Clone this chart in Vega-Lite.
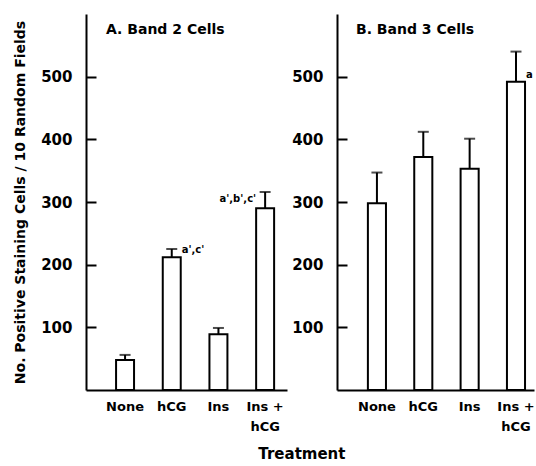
{
  "$schema": "https://vega.github.io/schema/vega-lite/v6.json",
  "padding": {"left": 13, "top": 14, "right": 0, "bottom": 5},
  "background": "white",
  "config": {
    "font": "DejaVu Sans",
    "view": {"stroke": null},
    "axis": {"grid": false, "domainColor": "black", "domainWidth": 2, "tickColor": "black", "tickWidth": 2, "labelColor": "black", "titleColor": "black", "labelFont": "DejaVu Sans", "titleFont": "DejaVu Sans", "labelFontWeight": "bold", "titleFontWeight": "bold"}
  },
  "datasets": {
    "d": [
      {"panel": "A", "treatment": "None", "value": 48, "upper": 56, "label": ""},
      {"panel": "A", "treatment": "hCG", "value": 212, "upper": 225, "label": "a',c'"},
      {"panel": "A", "treatment": "Ins", "value": 89, "upper": 99, "label": ""},
      {"panel": "A", "treatment": "Ins+hCG", "value": 290, "upper": 316, "label": "a',b',c'"},
      {"panel": "B", "treatment": "None", "value": 298, "upper": 347, "label": ""},
      {"panel": "B", "treatment": "hCG", "value": 372, "upper": 412, "label": ""},
      {"panel": "B", "treatment": "Ins", "value": 353, "upper": 401, "label": ""},
      {"panel": "B", "treatment": "Ins+hCG", "value": 492, "upper": 540, "label": "a"}
    ]
  },
  "title": {"text": "Treatment", "orient": "bottom", "anchor": "middle", "fontSize": 15, "fontWeight": "bold", "font": "DejaVu Sans", "color": "black", "offset": 14, "dx": 28},
  "spacing": 4,
  "hconcat": [
    {
      "width": 201,
      "height": 376,
      "title": {"text": "A. Band 2 Cells", "anchor": "start", "frame": "group", "offset": -23, "dx": 20, "fontSize": 14, "fontWeight": "bold", "font": "DejaVu Sans", "color": "black"},
      "data": {"name": "d"},
      "transform": [{"filter": "datum.panel == 'A'"}],
      "encoding": {
        "x": {"field": "treatment", "type": "nominal", "sort": ["None", "hCG", "Ins", "Ins+hCG"],
          "scale": {"paddingInner": 0.615, "paddingOuter": 0.46, "align": 0.7},
          "axis": {"title": null, "ticks": false, "labelAngle": 0, "labelPadding": 10, "labelFontSize": 13, "labelBaseline": "top", "labelLineHeight": 20, "labelExpr": "datum.label == 'Ins+hCG' ? ['Ins +', 'hCG'] : datum.label"}}
      },
      "layer": [
        {"mark": {"type": "bar", "fill": "white", "stroke": "black", "strokeWidth": 2},
          "encoding": {"y": {"field": "value", "type": "quantitative", "title": "No. Positive Staining Cells / 10 Random Fields",
            "scale": {"domain": [0, 600], "nice": false},
            "axis": {"values": [100, 200, 300, 400, 500], "tickSize": -10, "labelPadding": 24, "labelFontSize": 15, "titleFontSize": 14, "titlePadding": 13}}}},
        {"mark": {"type": "rule", "strokeWidth": 2, "color": "black"},
          "encoding": {"y": {"field": "value", "type": "quantitative", "title": "No. Positive Staining Cells / 10 Random Fields"}, "y2": {"field": "upper"}}},
        {"mark": {"type": "tick", "thickness": 2, "size": 11, "color": "black"},
          "encoding": {"y": {"field": "upper", "type": "quantitative", "title": "No. Positive Staining Cells / 10 Random Fields"}}},
        {"transform": [{"filter": "datum.treatment == 'hCG'"}],
          "mark": {"type": "text", "align": "left", "baseline": "middle", "dx": 10, "dy": 1, "fontSize": 10, "fontWeight": "bold", "color": "black"},
          "encoding": {"y": {"field": "upper", "type": "quantitative", "title": "No. Positive Staining Cells / 10 Random Fields"}, "text": {"field": "label"}}},
        {"transform": [{"filter": "datum.treatment == 'Ins+hCG'"}],
          "mark": {"type": "text", "align": "right", "baseline": "middle", "dx": -9, "dy": 7, "fontSize": 10, "fontWeight": "bold", "color": "black"},
          "encoding": {"y": {"field": "upper", "type": "quantitative", "title": "No. Positive Staining Cells / 10 Random Fields"}, "text": {"field": "label"}}}
      ]
    },
    {
      "width": 197,
      "height": 376,
      "title": {"text": "B. Band 3 Cells", "anchor": "start", "frame": "group", "offset": -23, "dx": 19, "fontSize": 14, "fontWeight": "bold", "font": "DejaVu Sans", "color": "black"},
      "data": {"name": "d"},
      "transform": [{"filter": "datum.panel == 'B'"}],
      "encoding": {
        "x": {"field": "treatment", "type": "nominal", "sort": ["None", "hCG", "Ins", "Ins+hCG"],
          "scale": {"paddingInner": 0.61, "paddingOuter": 0.43, "align": 0.775},
          "axis": {"title": null, "ticks": false, "labelAngle": 0, "labelPadding": 10, "labelFontSize": 13, "labelBaseline": "top", "labelLineHeight": 20, "labelExpr": "datum.label == 'Ins+hCG' ? ['Ins +', 'hCG'] : datum.label"}}
      },
      "layer": [
        {"mark": {"type": "bar", "fill": "white", "stroke": "black", "strokeWidth": 2},
          "encoding": {"y": {"field": "value", "type": "quantitative", "title": null,
            "scale": {"domain": [0, 600], "nice": false},
            "axis": {"values": [100, 200, 300, 400, 500], "tickSize": -10, "labelPadding": 24, "labelFontSize": 15}}}},
        {"mark": {"type": "rule", "strokeWidth": 2, "color": "black"},
          "encoding": {"y": {"field": "value", "type": "quantitative", "title": null}, "y2": {"field": "upper"}}},
        {"mark": {"type": "tick", "thickness": 2, "size": 11, "color": "black"},
          "encoding": {"y": {"field": "upper", "type": "quantitative", "title": null}}},
        {"transform": [{"filter": "datum.treatment == 'Ins+hCG'"}],
          "mark": {"type": "text", "align": "left", "baseline": "middle", "dx": 10, "dy": -7, "fontSize": 10, "fontWeight": "bold", "color": "black"},
          "encoding": {"y": {"field": "value", "type": "quantitative", "title": null}, "text": {"field": "label"}}}
      ]
    }
  ]
}
